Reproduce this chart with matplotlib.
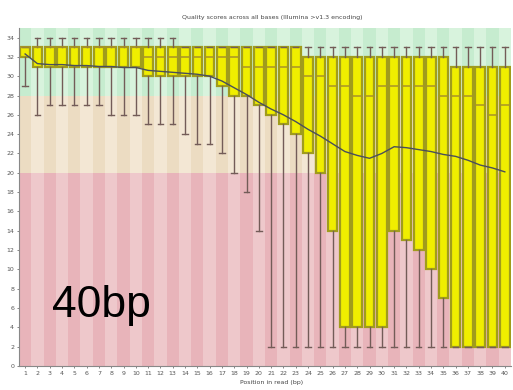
import matplotlib
matplotlib.use('Agg')
import matplotlib.pyplot as plt

# per-base quality summary
positions = list(range(1, 41))
q1 = [32, 31, 31, 31, 31, 31, 31, 31, 31, 31,
      30, 30, 30, 30, 30, 30, 29, 28, 28, 27,
      26, 25, 24, 22, 20, 14, 4, 4, 4, 4,
      14, 13, 12, 10, 7, 2, 2, 2, 2, 2]
q3 = [33] * 23 + [32] * 12 + [31] * 5
medians = [33, 33, 33, 33, 33, 33, 33, 33, 33, 33,
           32, 32, 32, 32, 32, 32, 32, 32, 31, 31,
           31, 31, 31, 30, 30, 29, 29, 28, 28, 29,
           29, 29, 29, 29, 28, 28, 28, 27, 26, 27]
low10 = [29, 26, 27, 27, 27, 27, 27, 26, 26, 26,
         25, 25, 25, 24, 23, 23, 22, 20, 18, 14] + [2] * 20
high90 = [33] + [34] * 12 + [33] * 27
means = [32.3, 31.3, 31.2, 31.2, 31.1, 31.1, 31.0, 31.0, 30.9, 30.9,
         30.6, 30.5, 30.4, 30.3, 30.2, 30.0, 29.5, 28.8, 28.1, 27.3,
         26.6, 26.0, 25.3, 24.5, 23.8, 23.0, 22.2, 21.8, 21.5, 22.0,
         22.7, 22.6, 22.4, 22.2, 21.9, 21.7, 21.3, 20.8, 20.5, 20.1]

title = 'Quality scores across all bases (Illumina >v1.3 encoding)'
xlabel = 'Position in read (bp)'

fig = plt.figure(figsize=(5.13, 3.9), dpi=100)
ax = fig.add_axes([0.037, 0.0615, 0.959, 0.867])

ymax = 35
# background zones, alternating shade per column
zones = [(0, 20, '#e8b4ba', '#eec8cb'),
         (20, 28, '#ecdcc2', '#f3e7d4'),
         (28, ymax, '#c6eccf', '#d8f3dd')]
for p in positions:
    for lo, hi, dark, light in zones:
        ax.fill_between([p - 0.5, p + 0.5], lo, hi,
                        color=dark if p % 2 else light, lw=0, zorder=0)

stats = []
for i, p in enumerate(positions):
    stats.append(dict(med=medians[i], q1=q1[i], q3=q3[i],
                      whislo=low10[i], whishi=high90[i], fliers=[]))

ax.bxp(stats, positions=positions, widths=0.78, patch_artist=True,
       showfliers=False, capwidths=0.45,
       boxprops=dict(facecolor='#f0ee00', edgecolor='#a09c1c', lw=1.6),
       medianprops=dict(color='#a8922a', lw=1.1),
       whiskerprops=dict(color='#735c58', lw=1.0),
       capprops=dict(color='#735c58', lw=1.0), zorder=2)

ax.plot(positions, means, color='#4a4e5c', lw=1.0, zorder=3)

ax.set_xlim(0.5, 40.5)
ax.set_ylim(0, ymax)
ax.set_yticks(range(0, 35, 2))
ax.set_xticks(positions)
ax.set_xticklabels([str(p) for p in positions])
ax.tick_params(labelsize=4.5, colors='#555555', length=1.5, width=0.5, pad=2)
for s in ['top', 'right']:
    ax.spines[s].set_visible(False)
for s in ['left', 'bottom']:
    ax.spines[s].set_color('#888888')
    ax.spines[s].set_linewidth(0.8)

fig.text(0.53, 0.955, title, ha='center', va='center', fontsize=4.5, color='#444444')
fig.text(0.53, 0.02, xlabel, ha='center', va='center', fontsize=4.5, color='#444444')

ax.text(0.067, 0.145, '40bp', transform=ax.transAxes, family='Liberation Sans',
        fontsize=32, color='black', zorder=5)

fig.savefig('out.png', dpi=100)
